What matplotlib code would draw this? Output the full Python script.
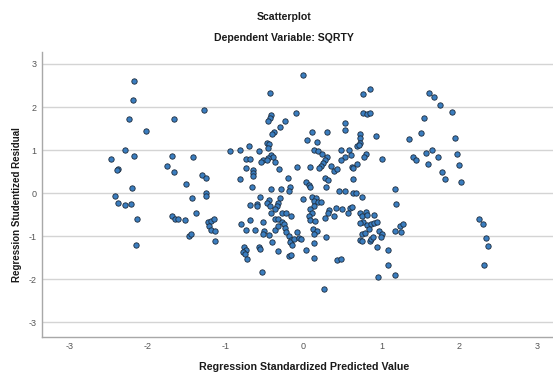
import matplotlib
matplotlib.use("Agg")
import matplotlib.pyplot as plt

plt.rcParams['font.family'] = ['Liberation Sans', 'DejaVu Sans']
plt.rcParams['axes.unicode_minus'] = False

# standardized predicted value (x) and studentized residual (y)
pred = [
    -2.17, -2.19, -2.23, -1.66, -1.28, -2.02, -2.29, -2.17, -2.47, -1.69,
    -1.41, -0.94, -2.37, -2.39, -1.75, -1.66, -1.30, -1.25, -1.50, -2.20,
    -2.42, -2.37, -2.28, -2.21, -2.13, -2.15, -1.43, -1.25, -1.25, -1.37,
    -1.68, -1.65, -1.61, -1.52, -1.46, -1.44, -1.22, -1.19, -1.15, -1.21,
    -1.18, -1.13, -1.13,
    -0.01, -0.43, 0.76, 0.86, -0.10, -0.41, -0.43, -0.45, -0.23, -0.30,
    -0.38, -0.40, 0.77, 0.81, 0.85, 0.54, 0.54, 0.11, 0.30, 0.05,
    0.17, 0.72, 0.72, 0.72, 0.93, -0.46, -0.44, -0.45, -0.81, -0.70,
    -0.57, -0.52, -0.54, -0.73, -0.69, -0.41, -0.39, -0.45, -0.37, -0.46,
    0.14, 0.19, 0.24, 0.30, 0.28, 0.25, 0.22, 0.20, 0.48, 0.54,
    0.59, 0.61, 0.48, 0.69, 0.71, 0.80, 0.78, 1.01, 0.69, 0.62,
    0.63, 0.36, 0.39, 0.43, -0.74, -0.64, -0.65, -0.64, -0.31, -0.08,
    0.09, -0.81, -0.66, -0.20, -0.17, 0.04, 0.07, 0.09, -0.41, -0.29,
    0.28, 0.31, 0.29, 0.46, 0.54, 0.64,
    0.63, 0.68, 0.75, -0.19, -0.55, -0.59, -0.60, -0.69, -0.44, -0.47,
    -0.43, -0.30, -0.32, -0.34, -0.36, 0.00, 0.11, 0.16, 0.13, 0.19,
    0.22, 0.13, 0.08, 0.11, 0.33, 0.31, 0.28, 0.42, 0.50, 0.39,
    0.60, 0.57, 0.62, -0.42, -0.52, -0.37, -0.33, -0.28, -0.22, -0.16,
    -0.28, -0.25, -0.80, -0.68, -0.73, -0.62, -0.50, -0.52, -0.44, -0.40,
    -0.37, -0.32, -0.24, 0.07, 0.09, 0.15, 0.12, 0.17, 0.13, 0.14,
    0.29, -0.22, -0.19, -0.16, -0.17, -0.12, -0.08, -0.06, -0.03, -0.14,
    -0.18, -0.16, -0.57, -0.55, -0.32, -0.76, -0.74, -0.77, -0.75, -0.72,
    0.04, 0.13, 0.43, 0.48, -0.53, 0.26,
    0.72, 0.75, 0.80, 0.82, 0.90, 0.77, 0.72, 0.81, 0.87, 0.90,
    0.94, 0.84, 0.75, 0.79, 0.97, 1.01, 0.72, 0.75, 0.85, 0.87,
    0.89, 0.94, 0.99, 1.09, 1.08, 0.96,
    1.61, 1.68, 1.75, 1.91, 1.54, 1.51, 1.36, 1.95, 1.65, 1.57,
    1.41, 1.45, 1.72, 1.60, 1.97, 2.00, 1.78, 1.82, 2.02, 1.17,
    1.19, 1.18, 1.25, 1.24, 1.28, 1.17, 2.25, 2.30, 2.34, 2.37,
    2.32,
]
resid = [
    2.60, 2.17, 1.73, 1.72, 1.93, 1.45, 1.01, 0.86, 0.80, 0.87,
    0.83, 0.97, 0.56, 0.53, 0.63, 0.50, 0.42, 0.35, 0.21, 0.13,
    -0.06, -0.24, -0.27, -0.26, -0.59, -1.20, -0.11, 0.01, -0.06, -0.47,
    -0.53, -0.59, -0.60, -0.62, -0.99, -0.96, -0.67, -0.64, -0.60, -0.76,
    -0.85, -0.87, -1.11,
    2.74, 2.33, 2.30, 2.41, 1.86, 1.81, 1.74, 1.68, 1.67, 1.53,
    1.41, 1.38, 1.86, 1.84, 1.87, 1.63, 1.46, 1.43, 1.41, 1.24,
    1.18, 1.38, 1.27, 1.17, 1.32, 1.17, 1.14, 1.04, 1.01, 1.10,
    0.98, 0.76, 0.72, 0.79, 0.80, 0.89, 0.85, 0.81, 0.73, 0.77,
    1.00, 0.98, 0.91, 0.85, 0.77, 0.70, 0.63, 0.59, 0.99, 0.85,
    0.99, 0.89, 0.78, 1.10, 1.12, 0.91, 0.84, 0.80, 0.67, 0.60,
    0.59, 0.63, 0.52, 0.56, 0.59, 0.53, 0.46, 0.39, 0.55, 0.60,
    0.60, 0.32, 0.15, 0.34, 0.15, 0.26, 0.19, 0.15, 0.10, 0.10,
    0.35, 0.30, 0.15, 0.04, 0.04, 0.32,
    0.01, 0.00, -0.08, 0.06, -0.08, -0.26, -0.31, -0.28, -0.16, -0.24,
    -0.29, -0.12, -0.23, -0.31, -0.37, -0.14, -0.09, -0.12, -0.19, -0.20,
    -0.21, -0.29, -0.37, -0.46, -0.39, -0.46, -0.57, -0.35, -0.37, -0.54,
    -0.35, -0.46, -0.32, -0.45, -0.66, -0.60, -0.60, -0.46, -0.46, -0.52,
    -0.66, -0.71, -0.71, -0.63, -0.86, -0.85, -0.89, -0.94, -0.97, -1.13,
    -0.85, -0.77, -0.82, -0.54, -0.62, -0.64, -0.84, -0.89, -0.95, -1.15,
    -1.01, -0.91, -0.99, -1.08, -1.14, -1.07, -0.90, -1.04, -1.07, -1.20,
    -1.45, -1.44, -1.24, -1.29, -1.34, -1.26, -1.32, -1.37, -1.41, -1.53,
    -1.32, -1.51, -1.55, -1.53, -1.83, -2.23,
    -0.45, -0.53, -0.43, -0.50, -0.50, -0.66, -0.70, -0.74, -0.72, -0.70,
    -0.68, -0.84, -0.94, -0.93, -0.87, -0.94, -1.08, -1.12, -1.12, -1.07,
    -1.02, -1.25, -1.01, -1.32, -1.68, -1.94,
    2.33, 2.23, 2.04, 1.89, 1.74, 1.39, 1.26, 1.28, 1.00, 0.94,
    0.84, 0.78, 0.83, 0.68, 0.91, 0.66, 0.50, 0.33, 0.25, 0.10,
    -0.25, -0.89, -0.91, -0.76, -0.71, -1.90, -0.60, -0.71, -1.05, -1.22,
    -1.66,
]
ticks = [-3, -2, -1, 0, 1, 2, 3]

fig = plt.figure(figsize=(5.53, 3.76), dpi=100)
ax = fig.add_axes([0.076, 0.105, 0.924, 0.757])

ax.set_xlim(-3.35, 3.2)
ax.set_ylim(-3.33, 3.28)
ax.set_xticks(ticks)
ax.set_yticks(ticks)
ax.set_xticklabels([str(t) for t in ticks])
ax.set_yticklabels([str(t) for t in ticks])
ax.tick_params(length=0, labelsize=6.5, labelcolor='#555555', pad=4)

for t in ticks:
    ax.axhline(t, color='#d4d4d4', lw=1.0, zorder=0)

for side in ['top', 'right']:
    ax.spines[side].set_visible(False)
for side in ['left', 'bottom']:
    ax.spines[side].set_color('#a8a8a8')
    ax.spines[side].set_linewidth(1.0)

ax.scatter(pred, resid, s=15, facecolor='#3a7dbf', edgecolor='#1c2b3c',
           linewidth=0.6, zorder=3)

fig.text(284 / 553, 1 - 17.5 / 376, "Scatterplot", ha='center', va='center',
         fontsize=7.6, fontweight='bold', color='#1a1a1a')
fig.text(284 / 553, 1 - 38 / 376, "Dependent Variable: SQRTY", ha='center',
         va='center', fontsize=7.6, fontweight='bold', color='#1a1a1a')
fig.text(304.5 / 553, 1 - 367 / 376, "Regression Standardized Predicted Value",
         ha='center', va='center', fontsize=7.7, fontweight='bold', color='#1a1a1a')
fig.text(17 / 553, 1 - 205 / 376, "Regression Studentized Residual",
         ha='center', va='center', rotation=90, fontsize=7.0, fontweight='bold',
         color='#1a1a1a')

fig.savefig("out.png", dpi=100)
